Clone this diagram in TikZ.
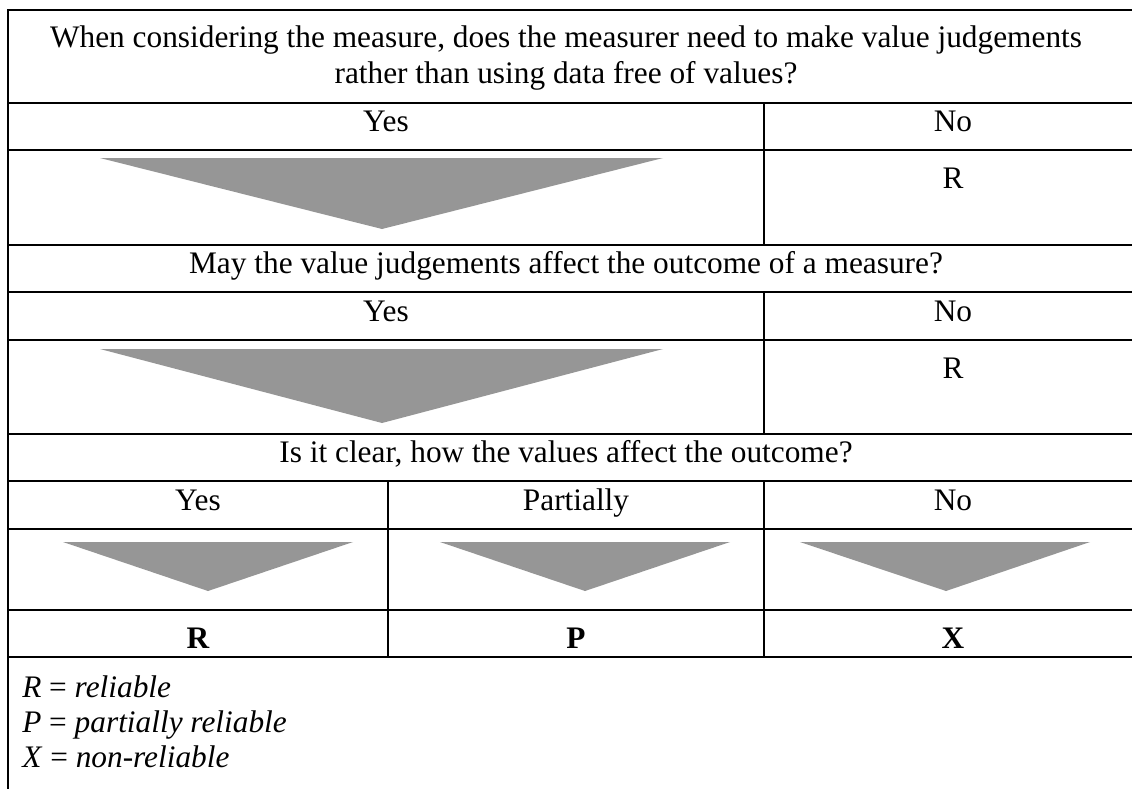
\documentclass[tikz,border=0pt]{standalone}
\usepackage{fontspec}
\setmainfont{Liberation Serif}
\definecolor{arrowgray}{RGB}{150,150,150}
\begin{document}
\begin{tikzpicture}[x=0.75pt,y=-0.75pt,
  rule/.style={line width=1.6pt},
  downtri/.style={fill=arrowgray, draw=none},
  txt/.style={anchor=base, inner sep=0pt, font=\fontsize{23.5}{28}\selectfont},
  outcome/.style={txt, font=\fontsize{23.5}{28}\selectfont\bfseries},
  legend/.style={txt, anchor=base west}]
\useasboundingbox (0,0) rectangle (1132,789);

% horizontal rules
\foreach \yy in {10,103,150,245,292,340,434,481,529,610,657}
  \draw[rule] (7,\yy) -- (1140,\yy);
% left border, running down past the legend
\draw[rule] (8,9) -- (8,795);
% column separators
\draw[rule] (764,103) -- (764,245);
\draw[rule] (764,292) -- (764,434);
\draw[rule] (764,481) -- (764,657);
\draw[rule] (388,481) -- (388,657);

% down-pointing triangles
\fill[downtri] (100,158) -- (663,158) -- (382,229) -- cycle;
\fill[downtri] (100,349) -- (663,349) -- (382,423) -- cycle;
\fill[downtri] (63,542) -- (353,542) -- (208,591) -- cycle;
\fill[downtri] (440,542) -- (730,542) -- (585,591) -- cycle;
\fill[downtri] (800,542) -- (1090,542) -- (946,591) -- cycle;

% question 1
\node[txt] (q1a) at (566,47) {When considering the measure, does the measurer need to make value judgements};
\node[txt] (q1b) at (566,83) {rather than using data free of values?};
\node[txt] (y1) at (386,131) {Yes};
\node[txt] (n1) at (953,131) {No};
\node[txt] (r1) at (953,188) {R};

% question 2
\node[txt] (q2) at (566,273) {May the value judgements affect the outcome of a measure?};
\node[txt] (y2) at (386,321) {Yes};
\node[txt] (n2) at (953,321) {No};
\node[txt] (r2) at (953,378) {R};

% question 3
\node[txt] (q3) at (566,462) {Is it clear, how the values affect the outcome?};
\node[txt] (y3) at (198,510) {Yes};
\node[txt] (p3) at (576,510) {Partially};
\node[txt] (n3) at (953,510) {No};

% outcomes
\node[outcome] (oR) at (198,648) {R};
\node[outcome] (oP) at (576,648) {P};
\node[outcome] (oX) at (953,648) {X};

% legend
\node[legend] (lr) at (22,697) {\textit{R} = \textit{reliable}};
\node[legend] (lp) at (22,732) {\textit{P} = \textit{partially reliable}};
\node[legend] (lx) at (22,767) {\textit{X} = \textit{non-reliable}};
\end{tikzpicture}
\end{document}
